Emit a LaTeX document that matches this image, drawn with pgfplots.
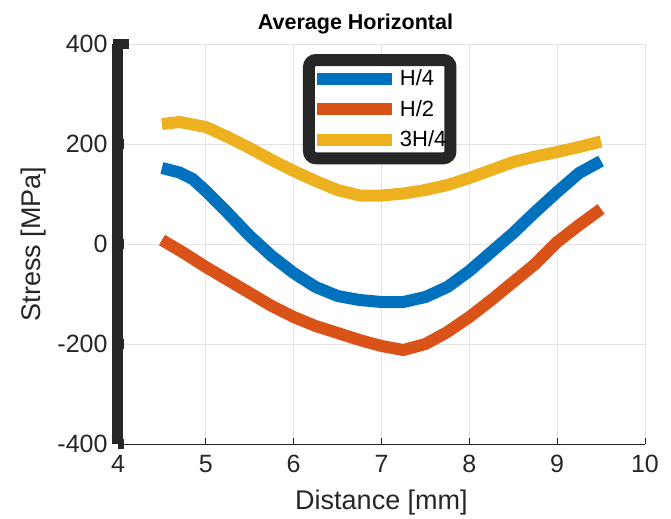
\documentclass[border=0pt]{standalone}
\usepackage{pgfplots}
\pgfplotsset{compat=1.18}
\usepackage{fontspec}
\setmainfont{Liberation Sans}

\definecolor{mblue}{rgb}{0,0.447,0.741}
\definecolor{morange}{rgb}{0.85,0.325,0.098}
\definecolor{myellow}{rgb}{0.929,0.694,0.125}
\definecolor{axgray}{rgb}{0.15,0.15,0.15}

\begin{document}
\begin{tikzpicture}
\path[use as bounding box] (-118bp,-75bp) rectangle (553bp,444bp);
\begin{axis}[
  scale only axis, width=527bp, height=400bp,
  xmin=4, xmax=10, ymin=-400, ymax=400,
  xtick={4,5,...,10}, ytick={-400,-200,...,400},
  axis x line*=bottom, axis y line*=left,
  x axis line style={-, axgray, line width=1bp},
  y axis line style={-, axgray, line width=11bp},
  tick align=inside, major tick length=6bp,
  x tick style={axgray, line width=1bp},
  y tick style={axgray, line width=10bp, shorten >=-5bp, shorten <=-5bp},
  grid=major, grid style={black!11, line width=1bp},
  /pgf/number format/assume math mode=true,
  tick label style={font=\fontsize{25bp}{30bp}\selectfont, text=axgray},
  yticklabel style={xshift=-7bp},
  xticklabel style={yshift=-8bp},
  label style={font=\fontsize{27bp}{32bp}\selectfont, text=axgray},
  xlabel={Distance [mm]},
  xlabel style={at={(axis description cs:0.5,-0.163)}, anchor=base},
  ylabel={Stress [MPa]},
  ylabel style={at={(axis description cs:-0.16,0.5)}, anchor=center},
  title={\bfseries Average Horizontal},
  title style={at={(axis description cs:0.4507,1.022)}, anchor=base, yshift=0pt,
    font=\fontsize{21.5bp}{26bp}\selectfont},
  every axis plot/.append style={line width=12bp, line cap=butt, line join=round},
  legend cell align=left,
  legend image code/.code={\draw[#1, line width=12bp] (0bp,0bp) -- (75bp,0bp);},
  legend style={at={(axis description cs:0.351,0.975)}, anchor=north west,
    draw=axgray, line width=12bp, rounded corners=7bp,
    inner xsep=2bp, inner ysep=8bp, row sep=9bp,
    font=\fontsize{22bp}{26bp}\selectfont,
    nodes={inner xsep=2bp}},
]
\addplot[mblue] coordinates {
(4.5,152) (4.7,143) (4.85,130) (5.0,106) (5.25,62) (5.5,16) (5.75,-24)
(6.0,-58) (6.25,-86) (6.5,-104) (6.75,-112) (7.0,-116) (7.25,-116)
(7.5,-106) (7.75,-86) (8.0,-54) (8.25,-16) (8.5,22) (8.75,64) (9.0,104)
(9.25,142) (9.5,166)
};
\addlegendentry{H/4}
\addplot[morange] coordinates {
(4.5,8) (4.75,-18) (5.0,-46) (5.25,-72) (5.5,-98) (5.75,-124) (6.0,-146)
(6.25,-164) (6.5,-178) (6.75,-192) (7.0,-204) (7.25,-212) (7.5,-200)
(7.75,-176) (8.0,-146) (8.25,-112) (8.5,-76) (8.75,-40) (9.0,4)
(9.25,38) (9.5,70)
};
\addlegendentry{H/2}
\addplot[myellow] coordinates {
(4.5,240) (4.7,244) (5.0,234) (5.25,214) (5.5,192) (5.75,168) (6.0,146)
(6.25,126) (6.5,108) (6.75,97) (7.0,97) (7.25,101) (7.5,108) (7.75,118)
(8.0,132) (8.25,148) (8.5,164) (8.75,175) (9.0,184) (9.25,194) (9.5,205)
};
\addlegendentry{3H/4}
\end{axis}
\end{tikzpicture}
\end{document}
